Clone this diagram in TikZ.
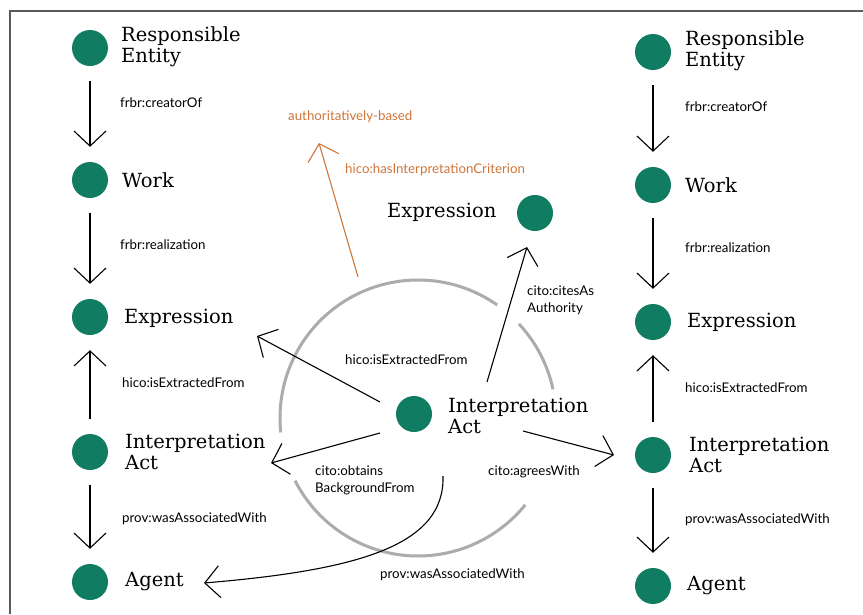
\documentclass[tikz,border=0pt]{standalone}
\usepackage{fontspec}
\setmainfont{DejaVu Serif}
\newfontfamily\lblfont{Lato}
\usetikzlibrary{arrows.meta}
\definecolor{teal}{RGB}{16,124,98}
\definecolor{orng}{RGB}{206,118,58}
\definecolor{ringgray}{RGB}{172,172,172}
\definecolor{framegray}{RGB}{90,90,90}
\tikzset{
  dot/.style={circle,fill=teal,draw=none,minimum size=36pt,inner sep=0pt},
  title/.style={anchor=west,align=left,inner sep=0pt,font=\fontsize{19.5}{21}\selectfont},
  lbl/.style={anchor=west,align=left,inner sep=0pt,font=\lblfont\fontsize{13.3}{17}\selectfont},
  conn/.style={line width=1.1pt,-{Straight Barb[length=15pt,width=32pt,line width=1.1pt]}},
  vconn/.style={conn,shorten <=15pt,shorten >=15pt},
}
\begin{document}
\begin{tikzpicture}[x=1pt,y=1pt]
\useasboundingbox (0,0) rectangle (863,-614);
\fill[white] (0,0) rectangle (863,-614);
\draw[framegray,line width=1.5pt] (10,-614) -- (10,-11) -- (863,-11);

% left column
\node[dot] (lre) at (90,-48) {};
\node[dot] (lwork) at (90,-180) {};
\node[dot] (lexp) at (90,-317) {};
\node[dot] (lia) at (90,-452) {};
\node[dot] (lag) at (90,-582) {};
\node[title] (lreT) at (121,-47) {Responsible\\Entity};
\node[title] (lworkT) at (122,-180) {Work};
\node[title] (lexpT) at (124,-318) {Expression};
\node[title] (liaT) at (125,-452) {Interpretation\\Act};
\node[title] (lagT) at (125,-582) {Agent};
\draw[vconn] (lre) -- (lwork);
\draw[vconn] (lwork) -- (lexp);
\draw[vconn] (lia) -- (lexp);
\draw[vconn] (lia) -- (lag);
\node[lbl] (l1) at (120,-103) {frbr:creatorOf};
\node[lbl] (l2) at (120,-245) {frbr:realization};
\node[lbl] (l3) at (122,-383) {hico:isExtractedFrom};
\node[lbl] (l4) at (122,-519) {prov:wasAssociatedWith};

% right column
\node[dot] (rre) at (653,-52) {};
\node[dot] (rwork) at (653,-185) {};
\node[dot] (rexp) at (653,-322) {};
\node[dot] (ria) at (653,-455) {};
\node[dot] (rag) at (653,-586) {};
\node[title] (rreT) at (685,-51) {Responsible\\Entity};
\node[title] (rworkT) at (685,-185) {Work};
\node[title] (rexpT) at (687,-322) {Expression};
\node[title] (riaT) at (689,-455) {Interpretation\\Act};
\node[title] (ragT) at (687,-586) {Agent};
\draw[vconn] (rre) -- (rwork);
\draw[vconn] (rwork) -- (rexp);
\draw[vconn] (ria) -- (rexp);
\draw[vconn] (ria) -- (rag);
\node[lbl] (r1) at (685,-107) {frbr:creatorOf};
\node[lbl] (r2) at (685,-248) {frbr:realization};
\node[lbl] (r3) at (685,-388) {hico:isExtractedFrom};
\node[lbl] (r4) at (685,-520) {prov:wasAssociatedWith};

% ring
\coordinate (rc) at (418,-418);
\begin{scope}[ringgray,line width=3pt]
\draw (rc) ++(55:138) arc[start angle=55,end angle=186,radius=138];
\draw (rc) ++(207:138) arc[start angle=207,end angle=321,radius=138];
\draw (rc) ++(12:138) arc[start angle=12,end angle=43,radius=138];
\end{scope}

% center
\node[dot] (cia) at (414,-414) {};
\node[title] (ciaT) at (448,-416) {Interpretation\\Act};
\node[dot] (cexp) at (535,-213) {};
\node[title] (cexpT) at (387,-212) {Expression};

\coordinate (a1s) at (380,-402); \coordinate (a1e) at (257,-336);
\coordinate (a2s) at (380,-433); \coordinate (a2e) at (271,-463);
\coordinate (a3s) at (523,-431); \coordinate (a3e) at (614,-455);
\coordinate (a4s) at (487,-382); \coordinate (a4e) at (527,-247);
\coordinate (a5s) at (443,-476); \coordinate (a5e) at (204,-583);
\coordinate (a6s) at (358,-277); \coordinate (a6e) at (319,-143);

\draw[conn] (a1s) -- (a1e);
\draw[conn] (a2s) -- (a2e);
\draw[conn] (a3s) -- (a3e);
\draw[conn] (a4s) -- (a4e);
\draw[conn] (a5s) .. controls (445,-545) and (360,-570) .. (a5e);
\draw[conn,orng] (a6s) -- (a6e);

\node[lbl] (c1) at (345,-360) {hico:isExtractedFrom};
\node[lbl] (c2) at (315,-480) {cito:obtains\\BackgroundFrom};
\node[lbl] (c3) at (488,-472) {cito:agreesWith};
\node[lbl] (c4) at (527,-300) {cito:citesAs\\Authority};
\node[lbl] (c5) at (380,-575) {prov:wasAssociatedWith};
\node[lbl,text=orng] (c6) at (288,-117) {authoritatively-based};
\node[lbl,text=orng] (c7) at (345,-170) {hico:hasInterpretationCriterion};
\end{tikzpicture}
\end{document}
